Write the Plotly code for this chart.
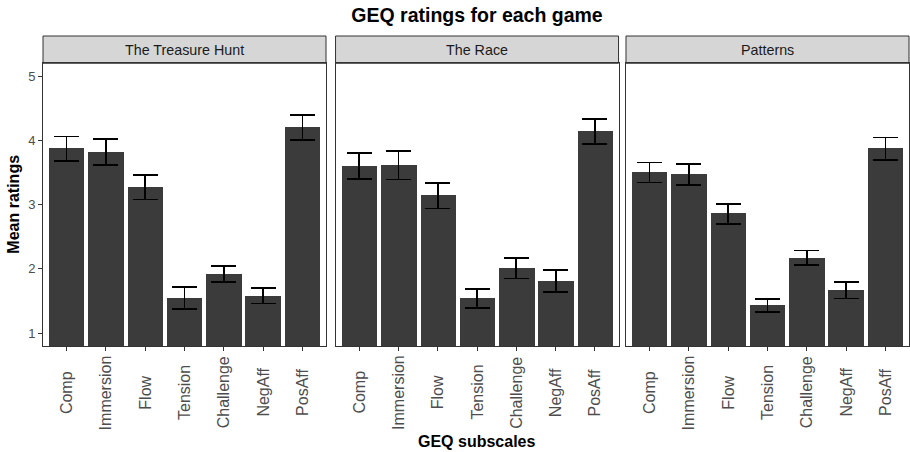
import plotly.graph_objects as go

# GEQ subscale means and standard errors per game
subscales = ["Comp", "Immersion", "Flow", "Tension", "Challenge", "NegAff", "PosAff"]
games = ["The Treasure Hunt", "The Race", "Patterns"]

treasure_mean = [3.87, 3.82, 3.27, 1.55, 1.92, 1.58, 4.20]
treasure_se = [0.19, 0.20, 0.19, 0.17, 0.12, 0.12, 0.19]

race_mean = [3.60, 3.61, 3.14, 1.54, 2.01, 1.81, 4.14]
race_se = [0.20, 0.22, 0.20, 0.145, 0.16, 0.17, 0.19]

patterns_mean = [3.50, 3.47, 2.86, 1.43, 2.17, 1.67, 3.87]
patterns_se = [0.155, 0.165, 0.155, 0.10, 0.115, 0.13, 0.175]

means = [treasure_mean, race_mean, patterns_mean]
errors = [treasure_se, race_se, patterns_se]

W, H = 910, 452
ML, MR, MT, MB = 43, 1, 36, 106
plot_w = W - ML - MR
plot_h = H - MT - MB

FONT = "Liberation Sans, Arial, Helvetica, sans-serif"
BORDER = "#333333"
BAR = "#3b3b3b"
TICKTXT = "#4d4d4d"

x_domains = [[0.0, 0.3268], [0.3378, 0.6646], [0.6732, 1.0]]
panel_top = 0.912  # strip sits above this

fig = go.Figure()
for i, (m, e) in enumerate(zip(means, errors)):
    ax = "" if i == 0 else str(i + 1)
    fig.add_trace(go.Bar(
        x=subscales, y=m, width=0.9,
        marker=dict(color=BAR, line=dict(width=0)),
        error_y=dict(type="data", array=e, visible=True, color="black",
                     thickness=1.8, width=12.5),
        xaxis="x" + ax, yaxis="y" + ax, showlegend=False,
    ))

layout = dict(
    width=W, height=H,
    margin=dict(l=ML, r=MR, t=MT, b=MB),
    paper_bgcolor="white", plot_bgcolor="white",
    font=dict(family=FONT, color="black"),
    title=dict(text="<b>GEQ ratings for each game</b>", x=477 / W, xanchor="center",
               y=1 - 15 / H, yanchor="middle", font=dict(size=19.5, color="black")),
    bargap=0,
)

shapes = []
annotations = []
for i in range(3):
    ax = "" if i == 0 else str(i + 1)
    layout["xaxis" + ax] = dict(
        domain=x_domains[i], anchor="y" + ax, type="category",
        categoryorder="array", categoryarray=subscales,
        range=[-0.6, 6.6], showgrid=False, zeroline=False,
        showline=True, mirror=True, linecolor=BORDER, linewidth=1,
        ticks="outside", ticklen=4, tickcolor=BORDER, tickwidth=1,
        showticklabels=False,
    )
    layout["yaxis" + ax] = dict(
        domain=[0, panel_top], anchor="x" + ax, range=[0.8, 5.2],
        tickvals=[1, 2, 3, 4, 5], showgrid=False, zeroline=False,
        showline=True, mirror=True, linecolor=BORDER, linewidth=1,
        ticks="outside" if i == 0 else "", ticklen=4, tickcolor=BORDER, tickwidth=1,
        showticklabels=(i == 0),
        tickfont=dict(size=13, color=TICKTXT),
    )
    if i > 0:
        layout["yaxis" + ax]["matches"] = "y"

    # facet strip
    shapes.append(dict(type="rect", xref="paper", yref="paper",
                       x0=x_domains[i][0], x1=x_domains[i][1], y0=panel_top, y1=1.0,
                       fillcolor="#d6d6d6", line=dict(color=BORDER, width=1), layer="below"))
    annotations.append(dict(text=games[i], xref="paper", yref="paper",
                            x=(x_domains[i][0] + x_domains[i][1]) / 2, y=(panel_top + 1) / 2,
                            xanchor="center", yanchor="middle", showarrow=False,
                            font=dict(size=14.3, color="#1a1a1a")))

    # rotated category labels, centred under each tick
    for s in subscales:
        annotations.append(dict(text=s, xref="x" + ax, yref="paper", x=s,
                                y=-46.5 / plot_h, xanchor="center", yanchor="middle",
                                textangle=-90, showarrow=False,
                                font=dict(size=16, color=TICKTXT)))

# axis titles
annotations.append(dict(text="<b>GEQ subscales</b>", xref="paper", yref="paper",
                        x=0.5, y=-95.5 / plot_h, xanchor="center", yanchor="middle",
                        showarrow=False, font=dict(size=16, color="black")))
annotations.append(dict(text="<b>Mean ratings</b>", xref="paper", yref="paper",
                        x=-29 / plot_w, y=panel_top / 2, xanchor="center", yanchor="middle",
                        textangle=-90, showarrow=False, font=dict(size=16, color="black")))

layout["shapes"] = shapes
layout["annotations"] = annotations
fig.update_layout(**layout)

fig.write_html("out.html")
